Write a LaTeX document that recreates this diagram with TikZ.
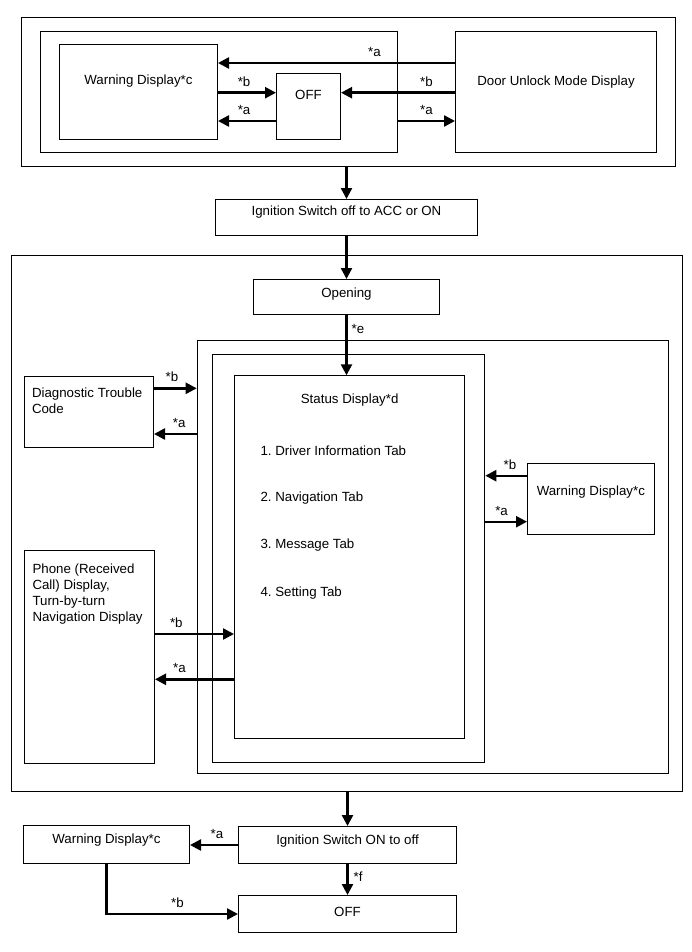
\documentclass[tikz,border=0pt]{standalone}
\usepackage{fontspec}
\setmainfont{Liberation Sans}
\usetikzlibrary{arrows.meta}
\frenchspacing

\begin{document}
\begin{tikzpicture}[x=1pt, y=-1pt,
	font=\fontsize{13.3}{16.3}\selectfont,
	frame/.style={draw, line width=1pt, inner sep=0pt, anchor=north west},
	arr/.style={line width=2.4pt, -{Triangle[length=11pt, width=11pt]}},
	lbl/.style={inner sep=1pt}]
	\useasboundingbox[fill=white] (0,0) rectangle (691,952);

	\node[frame, minimum width=654.5pt, minimum height=148.5pt] (outer1) at (20.5,17.5) {};
	\node[frame, minimum width=357pt, minimum height=121pt] (inner1) at (40,31) {};
	\node[frame, minimum width=158pt, text height=40.5pt, text depth=54.5pt] (warnA) at (59,44) {Warning Display*c};
	\node[frame, minimum width=64pt, text height=25.8pt, text depth=40.2pt] (offA) at (276,73) {OFF};
	\node[frame, minimum width=201pt, text height=54.5pt, text depth=66.5pt] (door) at (455,31) {Door Unlock Mode Display};
	\node[frame, minimum width=262pt, text height=16pt, text depth=20pt] (ign1) at (215,199) {Ignition Switch off to ACC or ON};

	\node[frame, minimum width=671pt, minimum height=536pt] (outer2) at (11,254.5) {};
	\node[frame, minimum width=186pt, text height=18pt, text depth=17pt] (opening) at (253,279) {Opening};
	\node[frame, minimum width=471pt, minimum height=432.5pt] (boxA) at (196.7,340) {};
	\node[frame, minimum width=272.6pt, minimum height=407.4pt] (boxB) at (211.7,354.3) {};
	\node[frame, inner xsep=26pt, text width=178.3pt, align=flush left, text height=27.2pt, text depth=335.2pt] (status) at (234,375.3)
		{\makebox[178.3pt]{Status Display*d}\\[35.7pt]
		1. Driver Information Tab\\[29.7pt]
		2. Navigation Tab\\[30.7pt]
		3. Message Tab\\[31.7pt]
		4. Setting Tab};
	\node[frame, inner xsep=8pt, text width=113.5pt, align=flush left, text height=21.3pt, text depth=49.5pt] (diag) at (23.5,375.7) {Diagnostic Trouble\\Code};
	\node[frame, minimum width=126.7pt, text height=32.3pt, text depth=39pt] (warnR) at (527,462.7) {Warning Display*c};
	\node[frame, inner xsep=8pt, text width=114pt, align=flush left, text height=22.5pt, text depth=190.2pt] (phone) at (24,550)
		{Phone (Received\\Call) Display,\\Turn-by-turn\\Navigation Display};

	\node[frame, minimum width=218pt, text height=18pt, text depth=19.3pt] (ign2) at (238,826) {Ignition Switch ON to off};
	\node[frame, minimum width=166pt, text height=17.7pt, text depth=19.7pt] (warnB) at (23,825.3) {Warning Display*c};
	\node[frame, minimum width=218pt, text height=21pt, text depth=16.3pt] (off2) at (238,895) {OFF};

	\coordinate (t1) at ([yshift=-32pt]door.north west);
	\coordinate (t2) at ([yshift=-48.7pt]warnA.north east);
	\coordinate (t3) at ([yshift=-77pt]warnA.north east);
	\draw[arr] (t1) -- (t1 -| warnA.east) node[lbl, pos=.34, above=4pt] {*a};
	\draw[arr] (t2) -- (t2 -| offA.west) node[lbl, pos=.45, above=4pt] {*b};
	\draw[arr] (t3 -| offA.west) -- (t3) node[lbl, pos=.55, above=4pt] {*a};
	\draw[arr] (t2 -| door.west) -- (t2 -| offA.east) node[lbl, pos=.25, above=4pt] {*b};
	\draw[arr] (t3 -| inner1.east) -- (t3 -| door.west) node[lbl, pos=.5, above=4pt] {*a};

	\draw[arr] (ign1.north |- outer1.south) -- (ign1.north);
	\draw[arr] (opening.north |- ign1.south) -- (opening.north);
	\draw[arr] (opening.south) -- (opening.south |- status.north) node[lbl, pos=.23, right=3pt] {*e};

	\coordinate (m1) at ([yshift=-12.6pt]diag.north east);
	\coordinate (m2) at ([yshift=-58.3pt]diag.north east);
	\coordinate (m3) at ([yshift=-13pt]warnR.north west);
	\coordinate (m4) at ([yshift=-59pt]warnR.north west);
	\coordinate (m5) at ([yshift=-84pt]phone.north east);
	\coordinate (m6) at ([yshift=-129.3pt]phone.north east);
	\draw[arr] (m1) -- (m1 -| boxA.west) node[lbl, pos=.42, above=4pt] {*b};
	\draw[arr] (m2 -| boxA.west) -- (m2) node[lbl, pos=.41, above=4pt] {*a};
	\draw[arr] (m3) -- (m3 -| boxB.east) node[lbl, pos=.41, above=4pt] {*b};
	\draw[arr] (m4 -| boxB.east) -- (m4) node[lbl, pos=.39, above=4pt] {*a};
	\draw[arr] (m5) -- (m5 -| status.west) node[lbl, pos=.27, above=4pt] {*b};
	\draw[arr] (m6 -| status.west) -- (m6) node[lbl, pos=.69, above=4pt] {*a};

	\coordinate (b1) at ([yshift=-19pt]ign2.north west);
	\coordinate (b2) at ([yshift=-19pt]off2.north west);
	\draw[arr] (ign2.north |- outer2.south) -- (ign2.north);
	\draw[arr] (b1) -- (b1 -| warnB.east) node[lbl, pos=.44, above=4pt] {*a};
	\draw[arr] (ign2.south) -- (off2.north) node[lbl, pos=.4, right=4pt] {*f};
	\draw[arr] (warnB.south) |- (b2) node[lbl, pos=.77, above=4pt] {*b};
\end{tikzpicture}
\end{document}
